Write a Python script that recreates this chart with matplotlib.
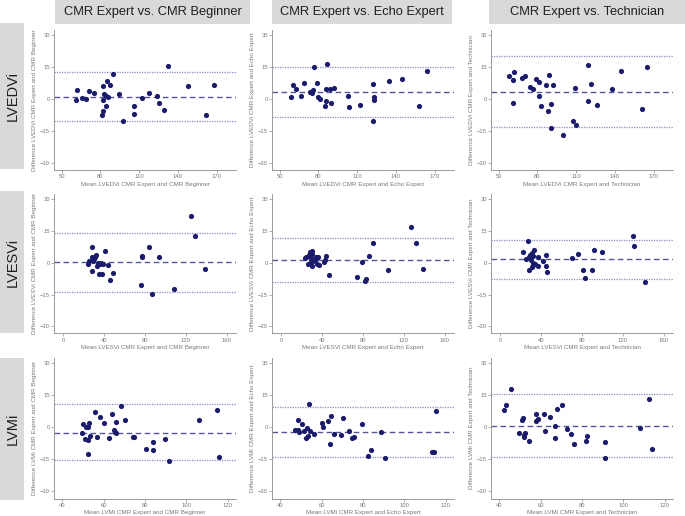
import matplotlib
matplotlib.use("Agg")
import matplotlib.pyplot as plt
from matplotlib.patches import Rectangle

plt.rcParams['font.family'] = ['Liberation Sans', 'DejaVu Sans']

# ---------------- data ----------------
col_titles = ["CMR Expert vs. CMR Beginner", "CMR Expert vs. Echo Expert", "CMR Expert vs. Technician"]
row_titles = ["LVEDVi", "LVESVi", "LVMi"]
comparisons = ["CMR Beginner", "Echo Expert", "Technician"]

x_ticks_rows = [[50, 80, 110, 140, 170], [0, 40, 80, 120, 160], [40, 60, 80, 100, 120]]
y_ticks = [-30, -15, 0, 15, 30]

# LVEDVi
lvedvi_beg_mean = [61, 62, 65.5, 68.5, 71.5, 75, 82, 82.5, 82, 81.5, 82.3, 84, 84.5, 85, 86, 87, 90,
                   94.4, 97.3, 106, 106, 112, 117.5, 123.5, 125.5, 129.5, 132.5, 148, 161.5, 168]
lvedvi_beg_diff = [-0.3, 4.4, 0.6, 0.2, 3.8, 2.7, 6.3, 2.4, -0.5, -7.7, -5.5, 1.5, -3.5, 8.5, 0.9, 6.7, 11.7,
                   2.5, -10.3, -3.5, -7.0, 0.4, 3.0, 1.3, -1.7, -5.2, 15.3, 6.1, -7.4, 6.7]
lvedvi_beg_lines = [12.7, 0.9, -10.5]

lvedvi_echo_mean = [60.2, 59.1, 62.8, 66.7, 68.8, 73.2, 75.1, 76.1, 76.6, 79.0, 80.0, 81.1, 85.2, 85.8, 85.8,
                    86.3, 88.6, 89.9, 92.0, 102.5, 103.8, 112.1, 122.3, 123.1, 123.4, 122.6, 134.6, 144.8,
                    158.1, 163.8]
lvedvi_echo_diff = [6.4, 0.9, 4.5, 1.4, 7.5, 3.4, 3.0, 4.4, 15.0, 7.5, 1.1, 0.2, -3.3, -0.9, 4.9,
                    16.3, 4.9, -1.7, 5.3, 1.3, -3.9, -2.8, 7.2, 0.9, -0.5, -10.5, 8.3, 9.4,
                    -3.3, 13.0]
lvedvi_echo_lines = [14.9, 3.3, -8.3]

lvedvi_tech_mean = [58.2, 61.1, 61.7, 61.1, 67.8, 70.2, 74.4, 76.8, 78.6, 80.8, 81.0, 82.9, 86.6, 88.5, 89.3,
                    90.1, 90.8, 91.9, 99.9, 107.8, 109.2, 110.2, 119.0, 119.0, 121.6, 125.9, 137.8, 144.7,
                    160.6, 164.6]
lvedvi_tech_diff = [10.8, 8.9, 12.7, -2.0, 10.0, 10.6, 5.6, 4.7, 9.5, 7.8, 1.6, -3.4, 6.4, -5.6, 11.4,
                    -2.5, -13.5, 6.6, -16.7, -10.3, 5.2, -12.4, 16.1, -0.8, 7.0, -2.7, 4.7, 13.0,
                    -4.5, 15.0]
lvedvi_tech_lines = [20.3, 3.1, -13.3]

# LVESVi
lvesvi_beg_mean = [24.6, 25.6, 28.2, 28.5, 27.9, 29.2, 30.5, 31.5, 32.1, 33.1, 34.1, 34.8, 36.1, 37.0, 38.4,
                   38.7, 40.7, 44.3, 45.9, 48.5, 75.7, 76.7, 77.0, 84.3, 86.9, 93.4, 108.2, 124.6, 129.2, 138.7]
lvesvi_beg_diff = [-0.5, 0.9, 2.8, 7.4, -3.9, 0.6, 1.9, 2.7, 3.5, -1.4, -0.2, -5.4, -0.8, -0.2, -5.2,
                   -0.6, 5.7, -1.3, -8.2, -4.7, -10.3, 3.3, 2.5, 7.3, -14.7, 2.7, -12.3, 22.0, 12.5, -3.0]
lvesvi_beg_lines = [14.1, 0.2, -13.9]

lvesvi_echo_mean = [23.3, 24.6, 25.9, 27.5, 28.5, 28.5, 29.2, 29.8, 30.2, 30.5, 31.5, 32.8, 34.1, 34.8, 36.1,
                    37.0, 42.0, 42.9, 44.3, 46.6, 74.1, 78.7, 82.0, 83.3, 85.9, 89.8, 104.3, 126.9, 131.5,
                    138.7]
lvesvi_echo_diff = [2.2, 2.8, -0.6, 3.6, 5.1, 2.7, 0.3, 5.7, -1.6, 3.9, 1.9, 0.6, 2.5, -0.8, 2.8,
                    -0.9, 0.5, 1.4, 3.0, -5.7, -6.5, 0.2, -8.5, -7.9, 3.2, 9.5, -3.6, 16.7, 9.3,
                    -3.2]
lvesvi_echo_lines = [11.5, 1.4, -9.0]

lvesvi_tech_mean = [22.0, 25.2, 27.5, 27.9, 28.2, 29.5, 30.5, 30.8, 33.1, 31.5, 31.8, 32.1, 32.5, 34.4, 36.7,
                    37.4, 41.6, 44.6, 45.2, 45.9, 70.2, 76.1, 80.7, 83.3, 89.5, 92.1, 100.0, 129.8, 131.1,
                    141.6]
lvesvi_tech_diff = [5.1, 1.7, 10.0, -3.3, 2.7, 3.5, 1.4, -2.1, 5.8, 4.6, -0.2, 3.2, -0.9, -0.5, -1.4,
                    2.5, 0.6, -1.4, 3.5, -4.3, 2.1, 4.1, -3.6, -7.4, -3.3, 6.0, 5.2, 12.5, 7.9,
                    -9.3]
lvesvi_tech_lines = [10.7, 1.6, -7.7]

# LVMi
lvmi_beg_mean = [49.8, 49.4, 50.9, 51.4, 52.6, 52.7, 52.5, 52.4, 53.2, 55.8, 56.7, 58.2, 60.3, 62.6, 64.2,
                 65.2, 65.7, 66.2, 66.2, 68.3, 70.4, 74.0, 74.5, 80.3, 83.7, 83.7, 89.8, 91.5, 106.3, 115.0,
                 115.6]
lvmi_beg_diff = [1.6, -2.5, -5.3, 0.0, 0.0, 2.2, -6.0, -12.5, -3.9, 6.9, -4.5, 5.0, 2.0, -4.9, 6.0,
                 -1.1, -2.0, 2.5, -2.5, 10.0, 3.4, -4.4, -4.7, -10.3, -6.9, -10.7, -5.3, -15.8, 3.4, 8.2,
                 -13.9]
lvmi_beg_lines = [10.7, -2.5, -15.2]

lvmi_echo_mean = [47.2, 48.6, 48.8, 49.1, 50.6, 51.4, 52.2, 52.7, 53.3, 53.8, 54.6, 56.1, 60.2, 60.7, 63.3,
                  64.1, 64.6, 66.2, 69.3, 70.2, 73.0, 74.6, 75.8, 79.5, 83.9, 82.4, 88.6, 90.6, 113.5,
                  114.5, 115.4]
lvmi_echo_diff = [-1.3, 3.6, -1.3, -2.2, 1.6, -1.6, -5.0, -0.2, -4.1, 11.0, -1.7, -3.1, 2.0, 0.3, 3.0,
                  -7.7, 5.3, -3.1, -3.4, 4.1, -1.6, -5.0, -4.4, 1.3, -10.7, -13.6, -2.4, -14.3, -11.8,
                  -11.6, 7.4]
lvmi_echo_lines = [9.6, -2.4, -14.1]

lvmi_tech_mean = [42.1, 43.1, 45.5, 49.5, 50.8, 51.4, 52.1, 51.9, 52.6, 54.5, 57.6, 57.9, 58.6, 61.7, 62.3,
                  64.6, 67.1, 67.1, 67.7, 70.3, 72.6, 74.9, 76.2, 81.8, 82.3, 90.9, 91.1, 108.0, 112.6,
                  113.7]
lvmi_tech_diff = [8.0, 10.2, 18.1, -2.8, 3.5, 4.4, -3.6, -4.6, -2.8, -6.4, 3.1, 6.0, 3.9, 6.1, -1.7,
                  4.7, 0.5, -5.2, 8.5, 10.4, -0.9, -3.0, -8.0, -6.4, -4.2, -7.1, -14.3, -0.2, 13.1,
                  -10.2]
lvmi_tech_lines = [15.4, 0.6, -14.0]

panels = [
    [(lvedvi_beg_mean, lvedvi_beg_diff, lvedvi_beg_lines),
     (lvedvi_echo_mean, lvedvi_echo_diff, lvedvi_echo_lines),
     (lvedvi_tech_mean, lvedvi_tech_diff, lvedvi_tech_lines)],
    [(lvesvi_beg_mean, lvesvi_beg_diff, lvesvi_beg_lines),
     (lvesvi_echo_mean, lvesvi_echo_diff, lvesvi_echo_lines),
     (lvesvi_tech_mean, lvesvi_tech_diff, lvesvi_tech_lines)],
    [(lvmi_beg_mean, lvmi_beg_diff, lvmi_beg_lines),
     (lvmi_echo_mean, lvmi_echo_diff, lvmi_echo_lines),
     (lvmi_tech_mean, lvmi_tech_diff, lvmi_tech_lines)],
]

# ---------------- layout ----------------
W, H = 685, 516
fig = plt.figure(figsize=(W / 100, H / 100), dpi=100)
fig.patch.set_facecolor('white')

col_left = [54, 272, 491]
col_width = 182
row_top = [29.7, 193.7, 357.7]
row_bottom = [170, 333.4, 498.5]
xlims = [(44, 185), (-9, 169), (36, 124)]
ylim = (-33.3, 32.5)

hdr_boxes = [(55, 250), (272, 452), (489, 685)]
row_boxes = [(23, 169), (191, 333), (358, 500)]

dot_color = '#1b1b6b'
mean_color = '#55559a'
lim_color = '#8a8ac8'
axis_color = '#8c8c8c'
text_color = '#7a7a7a'
box_color = '#d9d9d9'

for c, (x0, x1) in enumerate(hdr_boxes):
    fig.patches.append(Rectangle((x0 / W, 1 - 24 / H), (x1 - x0) / W, 24 / H,
                                 transform=fig.transFigure, facecolor=box_color, edgecolor='none'))
    fig.text((x0 + x1) / 2 / W, 1 - 12.5 / H, col_titles[c], ha='center', va='center',
             fontsize=9.3, color='#1e1e1e')

for r, (y0, y1) in enumerate(row_boxes):
    fig.patches.append(Rectangle((0, 1 - y1 / H), 24 / W, (y1 - y0) / H,
                                 transform=fig.transFigure, facecolor=box_color, edgecolor='none'))
    fig.text(12.5 / W, 1 - (y0 + y1) / 2 / H, row_titles[r], ha='center', va='center',
             rotation=90, fontsize=10.5, color='#1e1e1e')

for r in range(3):
    for c in range(3):
        mean_vals, diff_vals, lines = panels[r][c]
        ax = fig.add_axes([col_left[c] / W, 1 - row_bottom[r] / H, col_width / W,
                           (row_bottom[r] - row_top[r]) / H])
        ax.set_xlim(*xlims[r])
        ax.set_ylim(*ylim)
        ax.axhline(lines[0], color=lim_color, lw=0.9, ls=(0, (1, 1)))
        ax.axhline(lines[2], color=lim_color, lw=0.9, ls=(0, (1, 1)))
        ax.axhline(lines[1], color=mean_color, lw=1.0, ls=(0, (4, 2.5)))
        ax.scatter(mean_vals, diff_vals, s=14, color=dot_color, zorder=3, linewidths=0)
        for s in ['top', 'right']:
            ax.spines[s].set_visible(False)
        for s in ['left', 'bottom']:
            ax.spines[s].set_color(axis_color)
            ax.spines[s].set_linewidth(0.6)
        ax.set_xticks(x_ticks_rows[r])
        ax.set_yticks(y_ticks)
        ax.tick_params(axis='both', colors=axis_color, labelcolor=text_color, labelsize=4.2,
                       length=2, width=0.5, pad=1)
        ax.set_xlabel(f"Mean {row_titles[r]} CMR Expert and {comparisons[c]}", fontsize=4.5,
                      color=text_color, labelpad=2)
        ax.set_ylabel(f"Difference {row_titles[r]} CMR Expert and {comparisons[c]}", fontsize=4.5,
                      color=text_color, labelpad=2)
        ax.patch.set_alpha(0)

fig.savefig('out.png', dpi=100, facecolor='white')
